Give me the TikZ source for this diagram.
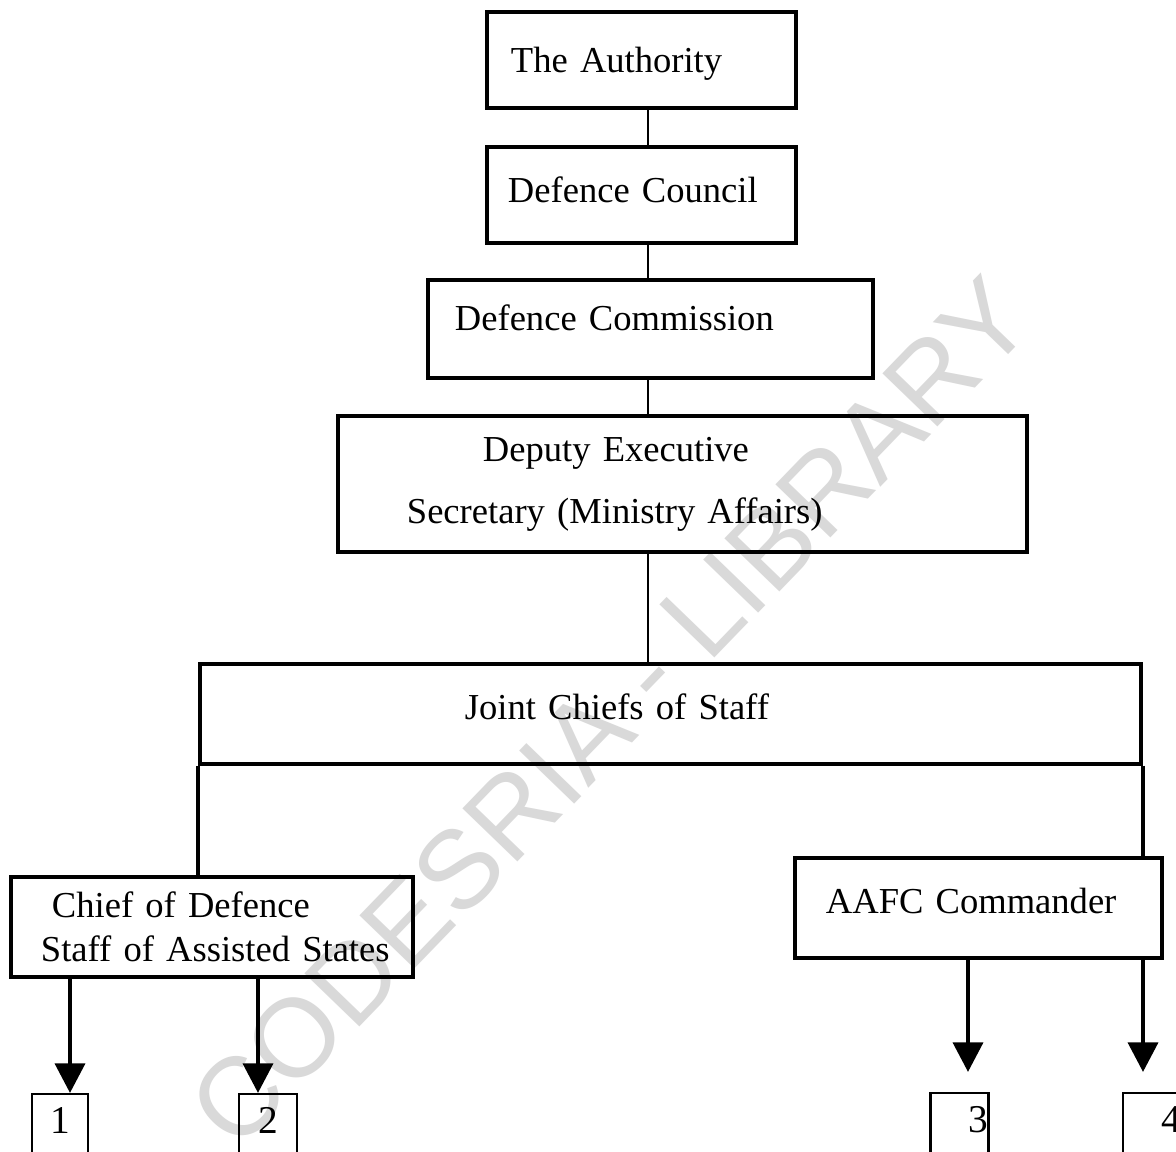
\documentclass[tikz,border=0pt]{standalone}
\usepackage{fontspec}
\setmainfont{Liberation Serif}
\newfontfamily\markfont{Liberation Sans}
\usetikzlibrary{arrows.meta,positioning}

\begin{document}
\begin{tikzpicture}[x=0.025cm,y=-0.025cm,
  box/.style={draw,line width=2.4pt,align=left,inner ysep=0pt,font=\fontsize{26}{31}\selectfont},
  numbox/.style={draw,line width=1.6pt,anchor=north,inner xsep=0pt,inner ysep=0pt,text height=0.975cm,text depth=1.2cm,align=center,font=\fontsize{28}{32}\selectfont},
  link/.style={line width=1.2pt},
  drop/.style={line width=2.6pt},
  arr/.style={-{Triangle[length=21pt,width=21pt]},line width=3.4pt}]
  \clip (0,0) rectangle (1176,1151);
  \fill[white] (0,0) rectangle (1176,1151);
  % Watermark
  \node[rotate=46,text=black!15,font=\markfont\fontsize{79}{79}\selectfont] (mark) at (610,712) {CODESRIA - LIBRARY};
  % Chain of command
  \node[box,minimum height=2.4cm,inner xsep=0.6cm,text width=6.525cm,text depth=0pt] (auth) at (641.5,60) {The Authority};
  \node[box,minimum height=2.4cm,inner xsep=0.525cm,text width=6.675cm,text depth=0.275cm] (council) at (641.5,195) {Defence Council};
  \node[box,minimum height=2.45cm,inner xsep=0.675cm,text width=9.775cm,text depth=0.57cm] (commission) at (650.5,329) {Defence Commission};
  \node[box,minimum height=3.4cm,inner xsep=1.725cm,text width=13.775cm] (des) at (682.5,484)
    {\hspace*{1.9cm}Deputy Executive\\[13pt]Secretary (Ministry Affairs)};
  \node[box,minimum height=2.5cm,inner xsep=6.625cm,text width=10.275cm,text depth=0.375cm] (jcs) at (670.5,714) {Joint Chiefs of Staff};
  \node[box,minimum height=2.5cm,inner xsep=0.45cm,text width=9.15cm] (chief) at (212,927)
    {\hspace*{0.575cm}Chief of Defence\\\hspace*{0.3cm}Staff of Assisted States};
  \node[box,minimum height=2.5cm,inner xsep=0.775cm,text width=7.625cm,text depth=0.37cm] (aafc) at (978.5,908) {AAFC Commander};
  % Units
  \node[numbox,text width=1.4cm] (u1) at (60,1093) {1};
  \node[numbox,text width=1.45cm] (u2) at (268,1093) {2};
  \node[numbox,text width=1.45cm,align=right] (u3) at (959.5,1092) {3};
  \node[numbox,text width=1.45cm,align=right] (u4) at (1152,1092) {4};
  % Connectors
  \coordinate (spine) at (648,0);
  \draw[link] (auth.south -| spine) -- (council.north -| spine);
  \draw[link] (council.south -| spine) -- (commission.north -| spine);
  \draw[link] (commission.south -| spine) -- (des.north -| spine);
  \draw[link] (des.south -| spine) -- (jcs.north -| spine);
  \draw[drop] (jcs.south west) -- (jcs.south west |- chief.north);
  \draw[drop] (jcs.south east) -- (jcs.south east |- aafc.north);
  \coordinate (a1) at (70,0);
  \coordinate (a2) at (258,0);
  \coordinate (a3) at (968,0);
  \coordinate (a4) at (1143,0);
  \draw[arr] (chief.south -| a1) -- (u1.north -| a1);
  \draw[arr] (chief.south -| a2) -- (u2.north -| a2);
  \draw[arr,shorten >=0.5cm] (aafc.south -| a3) -- (u3.north -| a3);
  \draw[arr,shorten >=0.5cm] (aafc.south -| a4) -- (u4.north -| a4);
\end{tikzpicture}
\end{document}
